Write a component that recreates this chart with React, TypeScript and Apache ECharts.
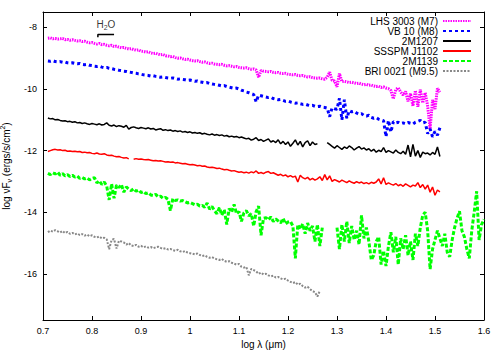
import React, { useEffect, useRef } from "react";
import * as echarts from "echarts";

// log λ grid: each series starts at X0 and advances by STEP
const X0 = 0.71;
const STEP = 0.005;

const X_TICKS = [0.7, 0.8, 0.9, 1.0, 1.1, 1.2, 1.3, 1.4, 1.5, 1.6];
const Y_TICKS = [-16, -14, -12, -10, -8];

const NAMES = [
  "LHS 3003 (M7)",
  "VB 10 (M8)",
  "2M1207",
  "SSSPM J1102",
  "2M1139",
  "BRI 0021 (M9.5)",
];

const LHS3003 = [
  -8.35, -8.34, -8.37, -8.36, -8.38, -8.37, -8.36, -8.40, -8.39, -8.42,
  -8.40, -8.42, -8.44, -8.43, -8.46, -8.45, -8.48, -8.50, -8.49, -8.52,
  -8.54, -8.52, -8.56, -8.55, -8.58, -8.60, -8.58, -8.62, -8.61, -8.64,
  -8.66, -8.65, -8.68, -8.70, -8.69, -8.72, -8.74, -8.73, -8.77, -8.78,
  -8.80, -8.79, -8.83, -8.85, -8.84, -8.87, -8.89, -8.88, -8.92, -8.93,
  -8.95, -8.94, -8.98, -9.00, -8.99, -9.02, -9.04, -9.03, -9.06, -9.08,
  -9.09, -9.08, -9.11, -9.13, -9.12, -9.15, -9.17, -9.16, -9.19, -9.20,
  -9.21, -9.20, -9.23, -9.25, -9.24, -9.26, -9.28, -9.27, -9.30, -9.31,
  -9.32, -9.31, -9.34, -9.36, -9.35, -9.38, -9.62, -9.40, -9.42, -9.43,
  -9.44, -9.43, -9.46, -9.47, -9.46, -9.49, -9.50, -9.49, -9.52, -9.53,
  -9.54, -9.53, -9.56, -9.57, -9.56, -9.59, -9.61, -9.60, -9.63, -9.64,
  -9.65, -9.64, -9.67, -9.68, -9.62, -9.45, -9.72, -9.74, -9.93, -9.50,
  -9.76, -9.75, -9.77, -9.79, -9.78, -9.80, -9.82, -9.81, -9.84, -9.86,
  -9.85, -9.88, -9.87, -9.90, -9.92, -9.91, -9.95, -9.93, -9.97, -9.99,
  -10.05, -10.32, -10.02, -9.96, -10.10, -10.20, -10.08, -10.40, -10.15, -10.55,
  -10.05, -10.58, -10.02, -10.45, -10.12, -10.55, -11.30, -10.35, -10.65, -9.98,
  -10.10,
];

const VB10 = [
  -9.09, -9.10, -9.08, -9.11, -9.12, -9.11, -9.13, -9.12, -9.15, -9.16,
  -9.15, -9.17, -9.18, -9.17, -9.20, -9.21, -9.20, -9.23, -9.24, -9.26,
  -9.27, -9.26, -9.29, -9.31, -9.30, -9.33, -9.34, -9.36, -9.37, -9.39,
  -9.40, -9.42, -9.43, -9.45, -9.46, -9.48, -9.49, -9.51, -9.52, -9.54,
  -9.55, -9.56, -9.58, -9.57, -9.59, -9.60, -9.62, -9.61, -9.63, -9.64,
  -9.65, -9.64, -9.66, -9.68, -9.67, -9.69, -9.70, -9.72, -9.71, -9.73,
  -9.75, -9.74, -9.77, -9.78, -9.80, -9.79, -9.82, -9.84, -9.85, -9.86,
  -9.88, -9.90, -9.89, -9.92, -9.94, -9.96, -9.98, -9.97, -10.00, -10.04,
  -10.06, -10.10, -10.12, -10.15, -10.18, -10.42, -10.20, -10.22, -10.24, -10.26,
  -10.28, -10.27, -10.31, -10.33, -10.35, -10.34, -10.37, -10.40, -10.39, -10.42,
  -10.44, -10.46, -10.45, -10.48, -10.50, -10.49, -10.52, -10.54, -10.53, -10.56,
  -10.57, -10.56, -10.59, -10.60, -10.62, -10.90, -10.61, -10.64, -10.66, -10.30,
  -11.00, -10.35, -10.95, -10.70, -10.74, -10.72, -10.78, -10.82, -10.80, -10.86,
  -10.88, -10.85, -10.92, -10.95, -10.93, -10.98, -11.00, -11.03, -11.55, -11.02,
  -11.40, -11.06, -11.10, -11.08, -11.12, -11.10, -11.13, -11.09, -11.11, -11.14,
  -11.08, -11.05, -11.02, -11.10, -11.08, -11.45, -11.30, -11.55, -11.38, -11.50,
  -11.26,
];

const M1207 = [
  -10.94, -10.97, -10.96, -11.00, -10.99, -11.02, -11.04, -11.03, -11.06, -11.05,
  -11.08, -11.06, -11.10, -11.09, -11.12, -11.10, -11.13, -11.15, -11.12, -11.14,
  -11.16, -11.13, -11.17, -11.15, -11.10, -11.18, -11.20, -11.17, -11.22, -11.19,
  -11.21, -11.24, -11.18, -11.30, -11.25, -11.23, -11.26, -11.28, -11.25, -11.27,
  -11.29, -11.26, -11.30, -11.28, -11.33, -11.31, -11.29, -11.34, -11.32, -11.35,
  -11.33, -11.37, -11.35, -11.38, -11.36, -11.40, -11.38, -11.41, -11.39, -11.43,
  -11.41, -11.44, -11.42, -11.46, -11.44, -11.47, -11.49, -11.46, -11.50, -11.48,
  -11.51, -11.49, -11.53, -11.51, -11.55, -11.53, -11.56, -11.54, -11.58, -11.56,
  -11.59, -11.62, -11.60, -11.66, -11.63, -11.58, -11.67, -11.64, -11.70, -11.66,
  -11.62, -11.72, -11.68, -11.74, -11.65, -11.78, -11.70, -11.80, -11.72, -11.86,
  -11.76, -11.65, -11.82, -11.70, -11.88, -11.74, -11.68, -11.84, -11.72, -11.80,
  -11.78, null, null, null, -11.74, -11.80, -11.86, -11.92, -11.84, -11.90,
  -11.96, -11.88, -11.93, -11.85, -11.90, -11.98, -11.92, -11.87, -11.95, -11.91,
  -11.98, -11.94, -12.02, -11.96, -12.05, -11.99, -12.03, -11.90, -12.06, -12.00,
  -12.04, -12.08, -11.98, -12.06, -12.10, -12.02, -12.12, -11.82, -12.20, -11.80,
  -12.18, -12.00, -12.22, -12.05, -12.10, -12.08, -12.14, -12.06, -12.12, -11.88,
  -12.19,
];

const J1102 = [
  -12.03, -12.00, -11.97, -11.96, -11.98, -11.97, -12.00, -11.99, -12.02, -12.01,
  -12.03, -12.02, -12.04, -12.03, -12.06, -12.05, -12.07, -12.06, -12.09, -12.10,
  -12.08, -12.11, -12.12, -12.10, -12.14, -12.16, -12.15, -12.18, -12.20, -12.19,
  -12.22, -12.24, -12.23, -12.27, null, -12.28, -12.26, -12.28, -12.27, -12.29,
  -12.30, -12.29, -12.31, -12.33, -12.32, -12.34, -12.33, -12.35, -12.37, -12.36,
  -12.38, -12.37, -12.40, -12.39, -12.41, -12.43, -12.42, -12.44, -12.46, -12.45,
  -12.47, -12.49, -12.48, -12.51, -12.50, -12.53, -12.55, -12.54, -12.56, -12.58,
  -12.57, -12.60, -12.62, -12.61, -12.64, -12.66, -12.65, -12.68, -12.70, -12.69,
  -12.72, -12.70, -12.73, -12.69, -12.72, -12.66, -12.74, -12.71, -12.75, -12.70,
  -12.68, -12.74, -12.72, -12.76, -12.80, -12.77, -12.82, -12.79, -12.85, -12.81,
  -12.86, -12.83, -13.02, -12.80, -12.88, -12.92, -12.87, -12.95, -12.90, -12.96,
  -12.92, -12.85, -12.97, -12.78, -12.95, -12.82, -13.00, -12.94, -12.98, -13.02,
  -12.96, -13.00, -13.04, -12.98, -13.03, -13.06, -13.01, -13.05, -13.02, -13.07,
  -13.04, -13.08, -13.03, -13.06, -13.02, -12.92, -13.08, -12.88, -13.10, -13.05,
  -13.09, -13.12, -13.07, -13.14, -13.10, -13.16, -13.08, -13.13, -13.18, -13.12,
  -13.15, -13.04, -13.20, -13.10, -13.25, -13.12, -13.35, -13.18, -13.45, -13.28,
  -13.34,
];

const M1139 = [
  -12.74, -12.78, -12.72, -12.76, -12.70, -12.80, -12.75, -12.82, -12.78, -12.84,
  -12.80, -12.86, -12.83, -12.90, -12.87, -12.92, -12.89, -12.95, -12.90, -12.88,
  -13.05, -12.98, -13.10, -13.02, -13.15, -13.60, -13.08, -13.55, -13.12, -13.20,
  -13.10, -13.35, -13.18, -13.25, -13.30, -13.24, -13.32, -13.28, -13.36, -13.33,
  -13.40, -13.37, -13.44, -13.46, -13.42, -13.50, -13.48, -13.55, -13.52, -13.58,
  -13.95, -13.56, -13.62, -13.60, -13.64, -13.62, -13.66, -13.70, -13.68, -13.72,
  -13.76, -13.74, -13.80, -13.78, -13.84, -13.70, -13.90, -13.82, -13.95, -14.05,
  -13.85, -14.10, -13.92, -14.40, -13.88, -14.00, -13.75, -14.05, -13.98, -14.30,
  -14.02, -13.95, -14.12, -14.05, -14.45, -13.98, -13.80, -14.75, -14.20, -14.18,
  -14.25, -14.15, -14.30, -14.22, -14.28, -14.35, -14.20, -14.38, -14.32, -14.30,
  -14.45, -15.50, -14.40, -14.55, -14.38, -14.70, -14.35, -14.60, -14.45, -14.95,
  -14.40, -15.10, -14.50, null, null, null, null, null, -14.50, -15.20,
  -14.40, -14.95, -14.30, -15.00, -14.45, -14.90, -14.60, -15.05, -14.10, -14.85,
  -14.50, -14.95, -15.55, -15.40, -14.95, -14.80, -15.70, -15.25, -15.75, -15.10,
  -14.65, -15.30, -14.80, -15.70, -14.85, -15.20, -14.75, -15.40, -14.95, -15.55,
  -14.70, -15.10, -14.50, -14.10, -14.00, -14.60, -15.85, -15.20, -14.90, -14.60,
  -14.85, -15.10, -14.70, -15.30, -15.45, -14.90, -14.50, -14.20, -13.97, -14.60,
  -14.80, -15.20, -15.50, -14.60, -14.00, -13.32, -14.90, -14.40, -14.23,
];

const BRI0021 = [
  -14.65, -14.60, -14.63, -14.58, -14.62, -14.66, -14.61, -14.68, -14.64, -14.70,
  -14.67, -14.72, -14.69, -14.74, -14.71, -14.76, -14.73, -14.78, -14.75, -14.80,
  -14.82, -14.79, -14.85, -14.83, -14.88, -15.20, -14.90, -14.87, -15.18, -14.93,
  -14.95, -14.98, -15.05, -15.00, -15.08, -15.10, -15.06, -15.12, -15.09, -15.14,
  -15.11, -15.15, -15.13, -15.17, -15.14, -15.12, -15.16, -15.19, -15.17, -15.21,
  -15.19, -15.23, -15.25, -15.22, -15.27, -15.29, -15.26, -15.31, -15.33, -15.35,
  -15.37, -15.34, -15.39, -15.42, -15.40, -15.45, -15.48, -15.46, -15.50, -15.53,
  -15.55, -15.52, -15.58, -15.61, -15.59, -15.64, -15.67, -15.70, -15.68, -15.77,
  -15.80, -15.78, -16.05, -15.84, -15.88, -15.92, -16.00, -15.96, -16.02, -16.00,
  -16.05, -16.08, -16.06, -16.12, -16.10, -16.15, -16.18, -16.16, -16.22, -16.26,
  -16.30, -16.27, -16.35, -16.32, -16.40, -16.45, -16.42, -16.50, -16.56, -16.60,
  -16.74, -16.55,
];

// H2O band bracket: x extent (log λ) and flux level
const H2O_X = [0.812, 0.845];
const H2O_Y = [-8.32, -8.23];

const COLORS = ["#ff00ff", "#0000ff", "#000000", "#ff0000", "#00ff00", "#888888"];
const VALUES = [LHS3003, VB10, M1207, J1102, M1139, BRI0021];
const LINES = [
  { width: 3, type: [1.5, 1] },
  { width: 3, type: [3, 3] },
  { width: 1.5, type: "solid" },
  { width: 1.5, type: "solid" },
  { width: 3, type: [4, 2] },
  { width: 2, type: [2, 1.5] },
];

const FONT = "'Liberation Sans', Arial, Helvetica, sans-serif";

function toPoints(vals: (number | null)[]) {
  return vals.map((v, i) => [+(X0 + i * STEP).toFixed(3), v === null ? "-" : v]);
}

export default function App() {
  const ref = useRef<HTMLDivElement>(null);
  useEffect(() => {
    document.body.style.margin = "0";
    if (!ref.current) return;
    const chart = echarts.init(ref.current, null, { renderer: "svg" });

    const commonX = {
      type: "value",
      min: X_TICKS[0],
      max: X_TICKS[X_TICKS.length - 1],
      interval: 0.1,
      splitLine: { show: false },
      axisLine: { lineStyle: { color: "#000", width: 1 } },
    };
    const commonY = {
      type: "value",
      min: -17.5,
      max: -7.5,
      splitLine: { show: false },
      axisLine: { show: true, lineStyle: { color: "#000", width: 1 } },
    };

    const series: any[] = VALUES.map((vals, i) => ({
      name: NAMES[i],
      type: "line",
      data: toPoints(vals),
      showSymbol: false,
      symbol: "none",
      connectNulls: false,
      color: COLORS[i],
      lineStyle: { color: COLORS[i], width: LINES[i].width, type: LINES[i].type },
      z: 2 + i,
    }));

    series.push({
      name: "H2O band",
      type: "line",
      data: [
        [H2O_X[0], H2O_Y[0]],
        [H2O_X[0], H2O_Y[1]],
        [H2O_X[1], H2O_Y[1]],
      ],
      showSymbol: false,
      symbol: "none",
      lineStyle: { color: "#000", width: 1.5 },
      silent: true,
      z: 10,
    });
    series.push({
      name: "H2O label",
      type: "scatter",
      data: [[(H2O_X[0] + H2O_X[1]) / 2, H2O_Y[1]]],
      symbolSize: 0,
      silent: true,
      label: {
        show: true,
        position: "top",
        distance: 3,
        formatter: "H{s|2}O",
        color: "#000",
        fontSize: 10,
        fontFamily: FONT,
        lineHeight: 14,
        rich: {
          s: { fontSize: 7, verticalAlign: "bottom", lineHeight: 9, fontFamily: FONT, color: "#000" },
        },
      },
      z: 10,
    });

    const legends = NAMES.map((n, i) => ({
      data: [n],
      right: 28,
      top: 16 + i * 10,
      orient: "vertical",
      align: "right",
      padding: 0,
      itemWidth: 28,
      itemHeight: 8,
      selectedMode: false,
      itemStyle: { opacity: 0, borderWidth: 0 },
      textStyle: { fontSize: 10, color: "#000", fontFamily: FONT, lineHeight: 10 },
    }));

    chart.setOption({
      animation: false,
      backgroundColor: "#fff",
      textStyle: { fontFamily: FONT },
      grid: { left: 43, right: 16, top: 12, bottom: 30, containLabel: false, outerBoundsMode: "none" },
      legend: legends,
      xAxis: [
        {
          ...commonX,
          position: "bottom",
          axisTick: { inside: true, length: 4, lineStyle: { color: "#000" } },
          axisLabel: { fontSize: 9, color: "#000", margin: 6, fontFamily: FONT },
          name: "log λ (μm)",
          nameLocation: "middle",
          nameGap: 16,
          nameTextStyle: { fontSize: 10, color: "#000", fontFamily: FONT },
        },
        {
          ...commonX,
          position: "top",
          axisTick: { inside: true, length: 4, lineStyle: { color: "#000" } },
          axisLabel: { show: false },
        },
      ],
      yAxis: [
        {
          ...commonY,
          position: "left",
          axisTick: { inside: true, length: 4, customValues: Y_TICKS, lineStyle: { color: "#000" } },
          axisLabel: { fontSize: 9, color: "#000", margin: 6, customValues: Y_TICKS, fontFamily: FONT },
          name: "log νF{sub|ν} (ergs/s/cm{sup|2})",
          nameLocation: "middle",
          nameGap: 26,
          nameRotate: 90,
          nameTextStyle: {
            fontSize: 10,
            color: "#000",
            fontFamily: FONT,
            lineHeight: 14,
            rich: {
              sub: { fontSize: 7, verticalAlign: "bottom", lineHeight: 8, fontFamily: FONT, color: "#000" },
              sup: { fontSize: 7, verticalAlign: "top", lineHeight: 8, fontFamily: FONT, color: "#000" },
            },
          },
        },
        {
          ...commonY,
          position: "right",
          axisTick: { inside: true, length: 4, customValues: Y_TICKS, lineStyle: { color: "#000" } },
          axisLabel: { show: false },
        },
      ],
      series,
    });
    return () => chart.dispose();
  }, []);
  return <div ref={ref} style={{ width: 500, height: 350 }} />;
}
